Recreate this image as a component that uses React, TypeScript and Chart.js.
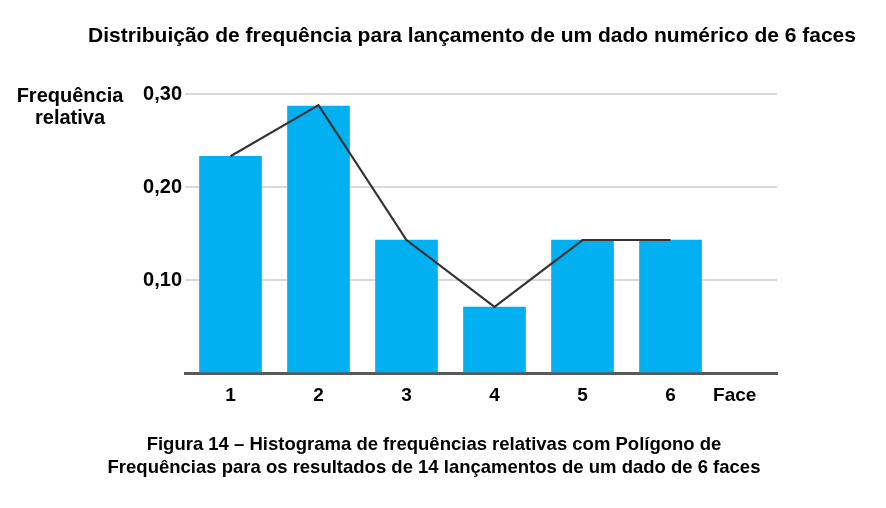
import React, { useEffect, useRef } from "react";
import { Chart, registerables } from "chart.js";

Chart.register(...registerables);

const title = "Distribuição de frequência para lançamento de um dado numérico de 6 faces";
const yAxisTitle = ["Frequência", "relativa"];
const xAxisTitle = "Face";
const caption = [
  "Figura 14 – Histograma de frequências relativas com Polígono de",
  "Frequências para os resultados de 14 lançamentos de um dado de 6 faces",
];
const faces = [1, 2, 3, 4, 5, 6];
const relFreq = [0.233, 0.287, 0.143, 0.071, 0.143, 0.143];
const polygon = [0.233, 0.288, 0.143, 0.071, 0.143, 0.143];
const yTicks = [0.1, 0.2, 0.3];
const faceTickPos = 6.73;

const FONT = "'Liberation Sans', Arial, sans-serif";

const textPlugin = {
  id: "texts",
  afterDraw(chart: any) {
    const ctx = chart.ctx;
    ctx.save();
    ctx.fillStyle = "#000";
    ctx.textBaseline = "middle";
    ctx.textAlign = "center";
    ctx.font = `bold 21px ${FONT}`;
    ctx.fillText(title, 464, 28);
    ctx.font = `bold 20px ${FONT}`;
    ctx.fillText(yAxisTitle[0], 62, 88);
    ctx.fillText(yAxisTitle[1], 62, 110);
    ctx.font = `bold 18.5px ${FONT}`;
    ctx.fillText(caption[0], 426, 437);
    ctx.fillText(caption[1], 426, 460);
    ctx.restore();
  },
};

export default function App() {
  const ref = useRef<HTMLCanvasElement>(null);
  useEffect(() => {
    if (!ref.current) return;
    const chart = new Chart(ref.current, {
      data: {
        datasets: [
          {
            type: "line",
            data: faces.map((f, i) => ({ x: f, y: polygon[i] })),
            borderColor: "#333333",
            borderWidth: 2.2,
            pointRadius: 0,
            tension: 0,
            order: 0,
          },
          {
            type: "bar",
            data: faces.map((f, i) => ({ x: f, y: relFreq[i] })),
            backgroundColor: "#00b0f0",
            barThickness: 62,
            order: 1,
          },
        ],
      } as any,
      options: {
        animation: false,
        responsive: false,
        layout: { padding: { left: 0, right: 101, top: 86, bottom: 87 } },
        plugins: { legend: { display: false }, tooltip: { enabled: false } },
        scales: {
          x: {
            type: "linear",
            offset: false,
            min: 0.483,
            max: 7.21,
            afterBuildTicks: (s: any) => {
              s.ticks = [...faces, faceTickPos].map((v) => ({ value: v }));
            },
            afterFit: (s: any) => {
              s.height = 40;
            },
            ticks: {
              autoSkip: false,
              maxRotation: 0,
              padding: 11,
              color: "#000",
              font: { family: FONT, size: 19, weight: "bold" },
              callback: (v: any) => (faces.includes(v) ? String(v) : xAxisTitle),
            },
            grid: { display: false, drawTicks: false },
            border: { display: true, color: "#595959", width: 3 },
          },
          y: {
            min: 0,
            max: 0.3,
            afterBuildTicks: (s: any) => {
              s.ticks = [0, ...yTicks].map((v) => ({ value: v }));
            },
            afterFit: (s: any) => {
              s.width = 177;
            },
            ticks: {
              padding: 3,
              color: "#000",
              font: { family: FONT, size: 20, weight: "bold" },
              callback: (v: any) => (v === 0 ? "" : v.toFixed(2).replace(".", ",")),
            },
            grid: {
              drawTicks: false,
              color: (c: any) => (c.tick && c.tick.value === 0 ? "rgba(0,0,0,0)" : "#d9d9d9"),
              lineWidth: 2,
            },
            border: { display: false },
          },
        },
      },
      plugins: [textPlugin],
    } as any);
    return () => chart.destroy();
  }, []);
  return <canvas ref={ref} width={870} height={492} style={{ display: "block" }} />;
}
